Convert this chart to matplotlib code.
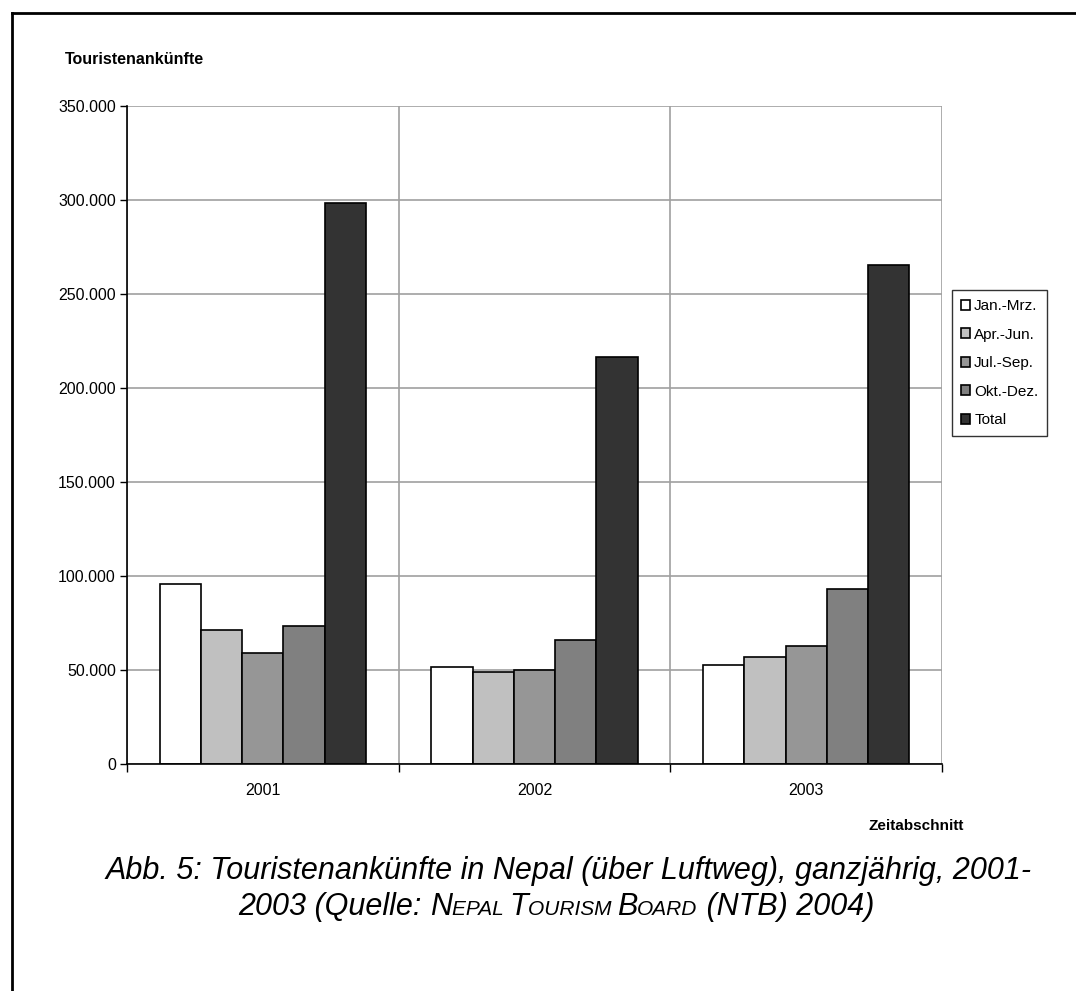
import numpy as np
import matplotlib
matplotlib.use("Agg")
import matplotlib.pyplot as plt
from matplotlib.ticker import FuncFormatter
from matplotlib.lines import Line2D

# Data (Touristenankünfte per Quartal)
years = ["2001", "2002", "2003"]
series = ["Jan.-Mrz.", "Apr.-Jun.", "Jul.-Sep.", "Okt.-Dez.", "Total"]
jan_mrz = [95800, 51800, 52500]
apr_jun = [71100, 48800, 57000]
jul_sep = [59300, 49800, 62900]
okt_dez = [73600, 66000, 93200]
total = [298500, 216500, 265600]
colors = ["#FFFFFF", "#C0C0C0", "#969696", "#808080", "#333333"]

plt.rcParams["font.family"] = ["Liberation Sans", "DejaVu Sans"]

fig = plt.figure(figsize=(10.76, 9.91), dpi=100)
ax = fig.add_axes([127 / 1076, 1 - 764 / 991, (942 - 127) / 1076, (764 - 106) / 991])

x = np.arange(len(years))
w = 0.152
values = [jan_mrz, apr_jun, jul_sep, okt_dez, total]
for i, (name, vals) in enumerate(zip(series, values)):
    ax.bar(x + (i - 2) * w, vals, width=w, color=colors[i], edgecolor="black",
           linewidth=1.2, label=name, zorder=3)

ax.set_xlim(-0.5, 2.5)
ax.set_ylim(0, 350000)
ax.set_yticks(np.arange(0, 350001, 50000))
ax.yaxis.set_major_formatter(FuncFormatter(lambda v, p: f"{v:,.0f}".replace(",", ".")))
ax.set_xticks(x)
ax.set_xticklabels(years)
ax.set_xticks([-0.5, 0.5, 1.5, 2.5], minor=True)
ax.tick_params(axis="x", which="major", length=0, pad=14, labelsize=11.5)
ax.tick_params(axis="x", which="minor", length=6, width=1, color="black")
ax.tick_params(axis="y", length=5, width=1, pad=3, labelsize=11.5)

ax.grid(axis="y", color="#A0A0A0", linewidth=1.2, zorder=0)
ax.grid(axis="x", which="minor", color="#A0A0A0", linewidth=1.2, zorder=0)
for s in ["top", "right"]:
    ax.spines[s].set_visible(False)
ax.spines["left"].set_linewidth(1.2)
ax.spines["bottom"].set_linewidth(1.2)
ax.spines["bottom"].set_zorder(4)

fig.text(65 / 1076, 1 - 60 / 991, "Touristenankünfte", fontsize=11.5, fontweight="bold",
         ha="left", va="center")
fig.text(964 / 1076, 1 - 826 / 991, "Zeitabschnitt", fontsize=11, fontweight="bold",
         ha="right", va="center")

leg = ax.legend(loc="upper left", bbox_to_anchor=(952 / 1076, 1 - 290 / 991),
                bbox_transform=fig.transFigure, frameon=True, fancybox=False,
                edgecolor="black", fontsize=11, handlelength=0.6, handleheight=0.6,
                handletextpad=0.25, labelspacing=0.95, borderpad=0.6, borderaxespad=0)
leg.get_frame().set_linewidth(1.0)

# frame around the figure (only top and left visible)
fig.add_artist(Line2D([12 / 1076, 12 / 1076], [0, 1 - 13 / 991], color="black",
                      linewidth=2, transform=fig.transFigure))
fig.add_artist(Line2D([12 / 1076, 1], [1 - 13 / 991, 1 - 13 / 991], color="black",
                      linewidth=2, transform=fig.transFigure))

# caption, second line with small caps
cap_font = ["Liberation Sans", "DejaVu Sans"]
big, small = 22, 15
cx = 568
fig.text(cx / 1076, 1 - 879 / 991,
         "Abb. 5: Touristenankünfte in Nepal (über Luftweg), ganzjährig, 2001-",
         fontsize=big, style="italic", family=cap_font, ha="center", va="baseline")

segs = [("2003 (Quelle: ", big), ("N", big), ("EPAL ", small), ("T", big),
        ("OURISM ", small), ("B", big), ("OARD", small), (" (NTB) 2004)", big)]
renderer = fig.canvas.get_renderer()


def seg_width(txt, size):
    t = fig.text(0, 0, "|" + txt + "|", fontsize=size, style="italic", family=cap_font)
    t2 = fig.text(0, 0, "||", fontsize=size, style="italic", family=cap_font)
    wdt = t.get_window_extent(renderer).width - t2.get_window_extent(renderer).width
    t.remove()
    t2.remove()
    return wdt


widths = [seg_width(s, sz) for s, sz in segs]
xpos = 556 - sum(widths) / 2
ybase = 1 - 915 / 991
for (s, sz), wd in zip(segs, widths):
    fig.text(xpos / 1076, ybase, s, fontsize=sz, style="italic", family=cap_font,
             ha="left", va="baseline")
    xpos += wd

fig.savefig("out.png", dpi=100)
